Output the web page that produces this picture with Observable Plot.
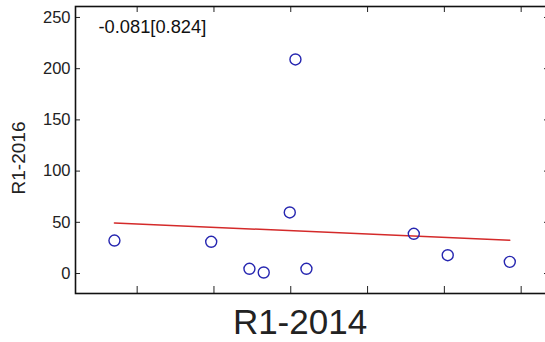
<!DOCTYPE html>
<html>
<head>
<meta charset="utf-8">
<script src="https://cdn.jsdelivr.net/npm/d3@7"></script>
<script src="https://cdn.jsdelivr.net/npm/@observablehq/plot@0.6"></script>
<style>
  html, body { margin: 0; padding: 0; background: #fff; overflow: hidden; }
</style>
</head>
<body>
<div id="chart"></div>
<script>
// Data (x in axis-tick units; x tick labels are not shown)
const r1_2014 = [0.704, 1.964, 2.462, 2.648, 2.987, 3.061, 3.204, 4.602, 5.044, 5.852];
const r1_2016 = [32.2, 31.0, 4.6, 1.0, 59.6, 209.0, 4.6, 38.8, 17.9, 11.4];
const xTicks = [1, 2, 3, 4, 5, 6];
const yTicks = [0, 50, 100, 150, 200, 250];
const xLabel = "R1-2014";
const yLabel = "R1-2016";
const statLabel = "-0.081[0.824]";

const data = r1_2014.map((x, i) => ({x, y: r1_2016[i]}));

const font = "Liberation Sans, Arial, sans-serif";

const plot = Plot.plot({
  width: 548,
  height: 342,
  marginLeft: 75,
  marginRight: 0,
  marginTop: 6,
  marginBottom: 49,
  style: {fontFamily: font, background: "#fff", maxWidth: "none", overflow: "visible"},
  x: {domain: [0.197, 6.356], axis: null},
  y: {domain: [-19.5, 260.7], axis: null},
  marks: [
    Plot.axisY({ticks: yTicks, anchor: "left", tickSize: -5, tickPadding: 10, fontSize: 16.5, color: "#222", label: null}),
    Plot.axisY({ticks: yTicks, anchor: "right", tickSize: -5, tickFormat: () => "", label: null, color: "#222"}),
    Plot.axisX({ticks: xTicks, anchor: "bottom", tickSize: -7, tickFormat: () => "", label: null, color: "#222"}),
    Plot.axisX({ticks: xTicks, anchor: "top", tickSize: -5, tickFormat: () => "", label: null, color: "#222"}),
    Plot.frame({stroke: "#111", strokeWidth: 1.6}),
    Plot.linearRegressionY(data, {x: "x", y: "y", ci: 0, stroke: "#d42a2a", strokeWidth: 1.5}),
    Plot.dot(data, {x: "x", y: "y", r: 5.5, stroke: "#2626b0", strokeWidth: 1.4, fill: "none"}),
    Plot.text([statLabel], {frameAnchor: "top-left", dx: 23, dy: 21, textAnchor: "start", lineAnchor: "middle", fontSize: 18.3, fill: "#111"}),
    Plot.text([xLabel], {frameAnchor: "bottom", dx: -12, dy: 29, textAnchor: "middle", lineAnchor: "middle", fontSize: 35, fill: "#222"}),
    Plot.text([yLabel], {frameAnchor: "left", dx: -57, dy: 8, rotate: -90, textAnchor: "middle", lineAnchor: "middle", fontSize: 19, fill: "#222"})
  ]
});
document.getElementById("chart").appendChild(plot);
</script>
</body>
</html>
